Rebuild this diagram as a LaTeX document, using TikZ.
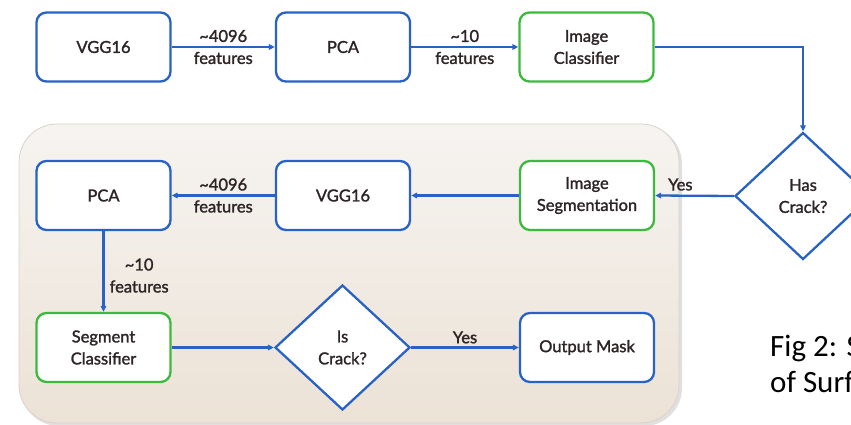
\documentclass[tikz,border=0pt]{standalone}
\usepackage{fontspec}
\setmainfont{Lato}
\newfontfamily\labelfont{Lato}[FakeBold=1.6]
\newfontfamily\capfont{Carlito}
\usetikzlibrary{shapes.geometric,arrows.meta}
\definecolor{flowblue}{HTML}{2862C6}
\definecolor{flowgreen}{HTML}{3DBA3D}
\definecolor{inktext}{HTML}{2E2426}
\definecolor{paneltop}{HTML}{F6F4F1}
\definecolor{panelbot}{HTML}{ECE2D6}
\definecolor{panelrim}{HTML}{D9D2CA}
\tikzset{
  procbox/.style={draw=flowblue, line width=2.3pt, fill=white, rounded corners=10pt,
    minimum width=134pt, minimum height=69pt, align=center, text=inktext,
    font=\labelfont\fontsize{16.5}{22}\selectfont},
  clsbox/.style={procbox, draw=flowgreen},
  decision/.style={diamond, draw=flowblue, line width=2.3pt, fill=white, inner sep=0pt,
    align=center, text=inktext, font=\labelfont\fontsize{16.5}{22}\selectfont},
  flow/.style={draw=flowblue, line width=2.3pt, -{Triangle[length=6pt,width=5.5pt]}},
  edgetext/.style={text=inktext, align=center, font=\labelfont\fontsize{16.5}{22}\selectfont, inner sep=1pt},
  captext/.style={anchor=base west, inner sep=0pt, text=black, font=\capfont\fontsize{31}{36}\selectfont}
}
\begin{document}
\begin{tikzpicture}[x=1pt,y=-1pt]
\useasboundingbox (0,0) rectangle (851,425);
\clip (0,0) rectangle (851,425);
% segmentation stage panel with a faint drop shadow
\fill[black!12, rounded corners=38pt] (21,126) rectangle (682,426);
\shade[top color=paneltop, bottom color=panelbot, draw=panelrim, line width=0.8pt,
  rounded corners=38pt] (19,124) rectangle (679,423);

% top row: image level
\node[procbox] (vggA) at (103.5,47) {VGG16};
\node[procbox] (pcaA) at (343,47) {PCA};
\node[clsbox]  (imgcls) at (586.5,47) {Image\\Classifier};
\node[decision, minimum width=136pt, minimum height=127pt] (hascrack) at (803,196) {Has\\Crack?};

% middle row: segmentation
\node[clsbox]  (imgseg) at (587,195.5) {Image\\Segmentation};
\node[procbox] (vggB) at (343,195.5) {VGG16};
\node[procbox] (pcaB) at (103.5,195.5) {PCA};

% bottom row: segment level
\node[clsbox]  (segcls) at (103.5,347.5) {Segment\\Classifier};
\node[decision, minimum width=135pt, minimum height=125pt] (iscrack) at (342.5,347.5) {Is\\Crack?};
\node[procbox] (outmask) at (587,347.5) {Output Mask};

% connectors
\draw[flow] (vggA) -- node[edgetext] (lblA) {\textasciitilde4096\\features} (pcaA);
\draw[flow] (pcaA) -- node[edgetext] (lblB) {\textasciitilde10\\features} (imgcls);
\draw[flow] (imgcls.east) -| (hascrack.north);
\draw[flow] (hascrack.west) -- node[edgetext, above, pos=0.68, yshift=3pt] (lblYesA) {Yes} (imgseg.east);
\draw[flow] (imgseg) -- (vggB);
\draw[flow] (vggB) -- node[edgetext] (lblC) {\textasciitilde4096\\features} (pcaB);
\draw[flow] (pcaB) -- node[edgetext, right, xshift=4pt, pos=0.55] (lblD) {\textasciitilde10\\features} (segcls);
\draw[flow] (segcls) -- (iscrack);
\draw[flow] (iscrack) -- node[edgetext, above, yshift=2pt] (lblYesB) {Yes} (outmask);

% caption, running off the right edge
\node[captext] (cap1) at (770,356) {Fig 2: Summary};
\node[captext] (cap2) at (770,392) {of Surface};
\end{tikzpicture}
\end{document}
